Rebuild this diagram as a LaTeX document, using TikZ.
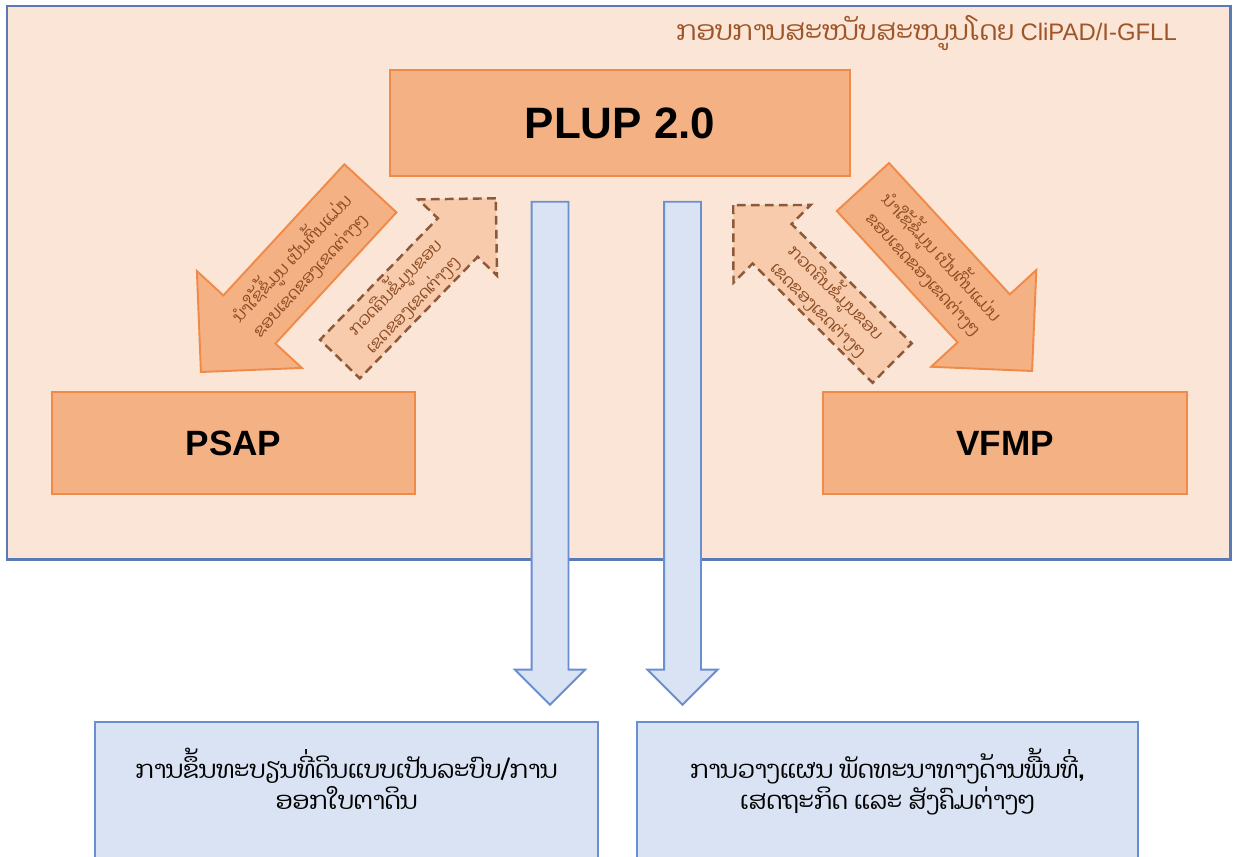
\documentclass[tikz,border=0pt]{standalone}
\usepackage{fontspec}
\setmainfont{Liberation Sans}
\newfontfamily\laofont[Script=Lao]{Dhyana}
\usetikzlibrary{shapes.arrows,calc}
\definecolor{panelfill}{HTML}{FBE5D6}
\definecolor{panelline}{HTML}{5A7AB5}
\definecolor{boxfill}{HTML}{F4B183}
\definecolor{boxline}{HTML}{F08A48}
\definecolor{backfill}{HTML}{F8CBAD}
\definecolor{backline}{HTML}{8C5A3A}
\definecolor{bluefill}{HTML}{DAE3F3}
\definecolor{blueline}{HTML}{6A8FD0}
\definecolor{browntext}{HTML}{9E5528}
\definecolor{arrowtext}{HTML}{8A4A22}
\begin{document}
\begin{tikzpicture}[x=0.02cm,y=-0.02cm,
  planbox/.style={draw=boxline,fill=boxfill,line width=1.1pt,inner sep=0pt,font=\bfseries\fontsize{20}{24}\selectfont},
  usearrow/.style={single arrow,draw=boxline,fill=boxfill,line width=1.1pt,inner xsep=0pt,inner ysep=0.69cm,minimum height=5cm,single arrow head extend=0.72cm},
  checkarrow/.style={single arrow,draw=backline,fill=backfill,line width=1.4pt,dash pattern=on 5pt off 3pt,inner xsep=0pt,inner ysep=0.53cm,minimum height=4.48cm,single arrow head extend=0.54cm},
  downarrow/.style={single arrow,draw=blueline,fill=bluefill,line width=1.1pt,inner xsep=0pt,inner ysep=0.35cm,minimum height=10.06cm,single arrow head extend=0.33cm,rotate=-90,anchor=tip},
  arrowlabel/.style={align=center,inner sep=0pt,text=arrowtext,font=\laofont\fontsize{9.5}{14}\selectfont},
  resultbox/.style={draw=blueline,fill=bluefill,line width=1.1pt,minimum height=2.76cm,text depth=14pt,align=center,font=\laofont\fontsize{14}{18}\selectfont}]
\clip (0,0) rectangle (1234,856);
\draw [draw=panelline,fill=panelfill,line width=1.7pt] (7,6) rectangle (1230,559);
\node [anchor=base east,text=browntext,font=\fontsize{13.6}{16}\selectfont] (frame) at (1183,40) {{\laofont\fontsize{15.5}{18}\selectfont ກອບການສະໜັບສະໜູນໂດຍ} CliPAD/I-GFLL};
\node [planbox,minimum width=9.2cm,minimum height=2.12cm,font=\bfseries\fontsize{25}{30}\selectfont] (plup) at (620,123) {PLUP 2.0};
\node [planbox,minimum width=7.26cm,minimum height=2.04cm] (psap) at (233.5,443) {PSAP};
\node [planbox,minimum width=7.28cm,minimum height=2.04cm] (vfmp) at (1005,443) {VFMP};
\node [usearrow,anchor=tip,rotate=47.3,shape border rotate=180] (usel) at (200,373) {};
\node [usearrow,anchor=tip,rotate=-47.4] (user) at (1033,372) {};
\node [checkarrow,anchor=tip,rotate=45.9] (checkl) at (497,197) {};
\node [checkarrow,anchor=tip,rotate=-44.8,shape border rotate=180] (checkr) at (732,204) {};
\node [arrowlabel,rotate=47.3] (usel-text) at ($(usel.tail)!0.42!(usel.tip)$) {ນຳໃຊ້ຂໍ້ມູນ ເປັນຕົ້ນແມ່ນ\\ຂອບເຂດຂອງເຂດຕ່າງໆ};
\node [arrowlabel,rotate=-47.4] (user-text) at ($(user.tail)!0.42!(user.tip)$) {ນຳໃຊ້ຂໍ້ມູນ ເປັນຕົ້ນແມ່ນ\\ຂອບເຂດຂອງເຂດຕ່າງໆ};
\node [arrowlabel,rotate=45.9] (checkl-text) at ($(checkl.tail)!0.4!(checkl.tip)$) {ກວດຄືນຂໍ້ມູນຂອບ\\ເຂດຂອງເຂດຕ່າງໆ};
\node [arrowlabel,rotate=-44.8] (checkr-text) at ($(checkr.tail)!0.4!(checkr.tip)$) {ກວດຄືນຂໍ້ມູນຂອບ\\ເຂດຂອງເຂດຕ່າງໆ};
\node [downarrow] (downl) at (550,706) {};
\node [downarrow] (downr) at (682.5,706) {};
\node [resultbox,minimum width=10.06cm] (register) at (346.5,791) {ການຂຶ້ນທະບຽນທີ່ດິນແບບເປັນລະບົບ/ການ\\ອອກໃບຕາດິນ};
\node [resultbox,minimum width=10.02cm] (develop) at (887.5,791) {ການວາງແຜນ ພັດທະນາທາງດ້ານພື້ນທີ່,\\ເສດຖະກິດ ແລະ ສັງຄົມຕ່າງໆ};
\end{tikzpicture}
\end{document}
